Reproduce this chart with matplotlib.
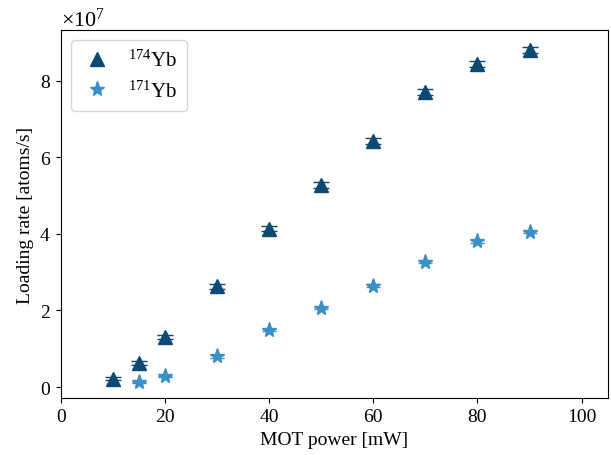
import numpy as np
import matplotlib
matplotlib.use('Agg')
import matplotlib.pyplot as plt

plt.rcParams['font.family'] = 'Liberation Serif'
plt.rcParams['mathtext.fontset'] = 'custom'
plt.rcParams['mathtext.rm'] = 'Liberation Serif'
plt.rcParams['mathtext.it'] = 'Liberation Serif:italic'
plt.rcParams['font.size'] = 14

# MOT power [mW]
power_174 = [10, 15, 20, 30, 40, 50, 60, 70, 80, 90]
rate_174 = [0.22, 0.62, 1.30, 2.63, 4.13, 5.27, 6.43, 7.70, 8.43, 8.80]
err_174 = [0.04, 0.05, 0.05, 0.06, 0.07, 0.07, 0.08, 0.08, 0.08, 0.08]

power_171 = [15, 20, 30, 40, 50, 60, 70, 80, 90]
rate_171 = [0.12, 0.28, 0.80, 1.48, 2.07, 2.65, 3.27, 3.80, 4.05]
err_171 = [0.02, 0.02, 0.03, 0.03, 0.03, 0.03, 0.03, 0.03, 0.03]

dark = '#0d4a73'
light = '#3a90c6'

fig, ax = plt.subplots(figsize=(6.11, 4.56), dpi=100)

e1 = ax.errorbar(power_174, np.array(rate_174) * 1e7, yerr=np.array(err_174) * 1e7,
                 fmt='^', color=dark, ms=10, capsize=6, elinewidth=1)
e2 = ax.errorbar(power_171, np.array(rate_171) * 1e7, yerr=np.array(err_171) * 1e7,
                 fmt='*', color=light, ms=11, capsize=5, elinewidth=1)

ax.set_xlim(0, 105)
ax.set_ylim(-0.295e7, 9.32e7)
ax.set_xticks([0, 20, 40, 60, 80, 100])
ax.set_yticks(np.array([0, 2, 4, 6, 8]) * 1e7)
ax.ticklabel_format(axis='y', style='sci', scilimits=(7, 7), useMathText=True)
ax.yaxis.get_offset_text().set_fontsize(16)

ax.set_xlabel('MOT power [mW]')
ax.set_ylabel('Loading rate [atoms/s]')
ax.legend([e1[0], e2[0]], [r'$^{174}$Yb', r'$^{171}$Yb'], loc='upper left',
          fontsize=15, handletextpad=0.7, handlelength=1.6, borderpad=0.45,
          labelspacing=0.45)

fig.subplots_adjust(left=0.0993, right=0.9946, top=0.932, bottom=0.1243)
fig.savefig('out.png', dpi=100)
